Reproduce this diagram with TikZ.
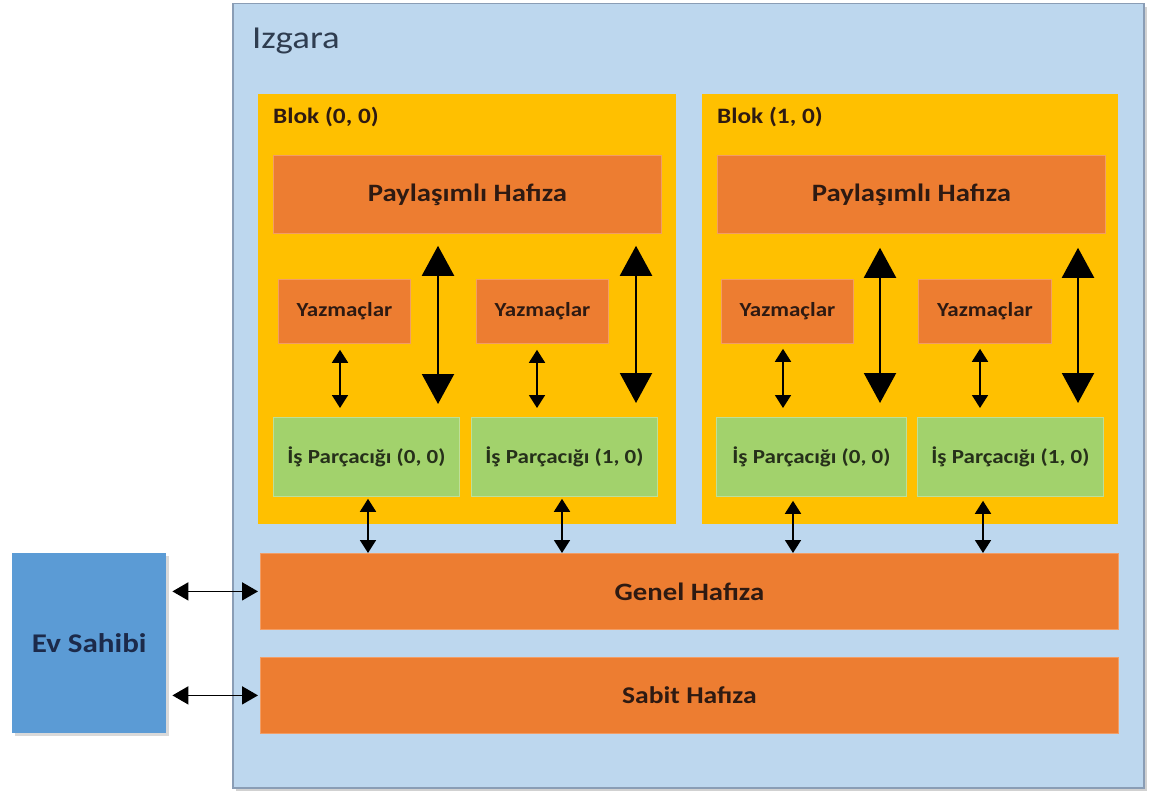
\documentclass[tikz,border=0pt]{standalone}
\usepackage{fontspec}
\setmainfont{Carlito}[FakeStretch=1.15]
\usetikzlibrary{arrows.meta}
\definecolor{gridfill}{HTML}{BDD7EE}
\definecolor{gridline}{HTML}{8A9DB5}
\definecolor{blockfill}{HTML}{FFC000}
\definecolor{orangefill}{HTML}{ED7D31}
\definecolor{greenfill}{HTML}{A2D26C}
\definecolor{hostfill}{HTML}{5B9BD5}
\definecolor{txtdark}{HTML}{2E1A12}
\definecolor{txtgreen}{HTML}{26301A}
\definecolor{txtgrid}{HTML}{2F3D50}
\definecolor{txthost}{HTML}{1C2A4A}
\tikzset{
  box/.style n args={3}{rectangle, anchor=north west, inner sep=0pt,
     minimum width=#1pt, minimum height=#2pt, fill=#3},
  membox/.style={draw=orangefill!75!white, line width=0.8pt, text=txtdark, font=\bfseries},
  thrbox/.style={draw=greenfill!70!white, line width=0.8pt, text=txtgreen, font=\bfseries\fontsize{20}{24}\selectfont},
  regbox/.style={draw=orangefill!75!white, line width=0.8pt, text=txtdark, font=\bfseries\fontsize{20}{24}\selectfont},
  bigarrow/.style={line width=2.2pt, {Triangle[width=32pt,length=30pt]}-{Triangle[width=32pt,length=30pt]}},
  smallarrow/.style={line width=1.8pt, {Triangle[width=16pt,length=13pt]}-{Triangle[width=16pt,length=13pt]}},
  hostarrow/.style={line width=1.8pt, {Triangle[width=18pt,length=16pt]}-{Triangle[width=18pt,length=16pt]}},
}
\begin{document}
\begin{tikzpicture}[x=1pt,y=-1pt]
\useasboundingbox (0,0) rectangle (1153,791);
\fill[white] (0,0) rectangle (1153,791);
% grid
\fill[black!18] (236,7) rectangle (1147,791);
\node[box={911}{784}{gridfill}, draw=gridline, line width=1.5pt] (grid) at (232,3) {};
\node[anchor=base west, text=txtgrid, font=\fontsize{32}{38}\selectfont, inner sep=0pt] (gridlbl) at (252,49) {Izgara};
% blocks
\node[box={418}{430}{blockfill}] (blk0) at (258,94) {};
\node[box={416}{430}{blockfill}] (blk1) at (702,94) {};
\node[anchor=base west, text=txtdark, font=\bfseries\fontsize{22}{26}\selectfont, inner sep=0pt] (blk0lbl) at (273,124) {Blok (0, 0)};
\node[anchor=base west, text=txtdark, font=\bfseries\fontsize{22}{26}\selectfont, inner sep=0pt] (blk1lbl) at (717,124) {Blok (1, 0)};
% shared memory
\node[box={388}{78}{orangefill}, membox, font=\bfseries\fontsize{25}{30}\selectfont] (pay0) at (273,155) {Paylaşımlı Hafıza};
\node[box={388}{78}{orangefill}, membox, font=\bfseries\fontsize{25}{30}\selectfont] (pay1) at (717,155) {Paylaşımlı Hafıza};
% registers
\node[box={132}{64}{orangefill}, regbox] (yaz00) at (278,279) {Yazmaçlar};
\node[box={132}{64}{orangefill}, regbox] (yaz01) at (476,279) {Yazmaçlar};
\node[box={132}{64}{orangefill}, regbox] (yaz10) at (721,279) {Yazmaçlar};
\node[box={133}{64}{orangefill}, regbox] (yaz11) at (918,279) {Yazmaçlar};
% threads
\node[box={186}{79}{greenfill}, thrbox] (th00) at (273,417) {İş Parçacığı (0, 0)};
\node[box={186}{79}{greenfill}, thrbox] (th01) at (471,417) {İş Parçacığı (1, 0)};
\node[box={190}{79}{greenfill}, thrbox] (th10) at (716,417) {İş Parçacığı (0, 0)};
\node[box={186}{79}{greenfill}, thrbox] (th11) at (917,417) {İş Parçacığı (1, 0)};
% global / constant memory
\node[box={858}{76}{orangefill}, membox, font=\bfseries\fontsize{25}{30}\selectfont] (genel) at (260,553) {Genel Hafıza};
\node[box={858}{76}{orangefill}, membox, font=\bfseries\fontsize{24}{28}\selectfont] (sabit) at (260,657) {Sabit Hafıza};
% host
\fill[black!15] (15,556) rectangle (169,736);
\node[box={154}{180}{hostfill}, text=txthost, font=\bfseries\fontsize{27}{32}\selectfont] (host) at (12,553) {Ev Sahibi};
% arrow columns
\coordinate (c00) at (438,0);
\coordinate (c01) at (636,0);
\coordinate (c10) at (880,0);
\coordinate (c11) at (1078,0);
\coordinate (g00) at (368,0);
\coordinate (g01) at (562,0);
\coordinate (g10) at (793,0);
\coordinate (g11) at (983,0);
\coordinate (r00) at (340,0);
\coordinate (r01) at (537,0);
\coordinate (r10) at (783,0);
\coordinate (r11) at (980,0);
% big arrows: shared memory <-> threads
\draw[bigarrow, shorten <=12pt, shorten >=13pt] (pay0.south -| c00) -- (th00.north -| c00);
\draw[bigarrow, shorten <=12pt, shorten >=14pt] (pay0.south -| c01) -- (th01.north -| c01);
\draw[bigarrow, shorten <=14pt, shorten >=14pt] (pay1.south -| c10) -- (th10.north -| c10);
\draw[bigarrow, shorten <=14pt, shorten >=14pt] (pay1.south -| c11) -- (th11.north -| c11);
% small arrows: registers <-> threads
\draw[smallarrow, shorten <=6pt, shorten >=9pt] (yaz00.south -| r00) -- (th00.north -| r00);
\draw[smallarrow, shorten <=6pt, shorten >=9pt] (yaz01.south -| r01) -- (th01.north -| r01);
\draw[smallarrow, shorten <=5pt, shorten >=9pt] (yaz10.south -| r10) -- (th10.north -| r10);
\draw[smallarrow, shorten <=5pt, shorten >=9pt] (yaz11.south -| r11) -- (th11.north -| r11);
% threads <-> global memory
\draw[smallarrow, shorten <=2pt] (th00.south -| g00) -- (genel.north -| g00);
\draw[smallarrow, shorten <=2pt] (th01.south -| g01) -- (genel.north -| g01);
\draw[smallarrow, shorten <=4pt] (th10.south -| g10) -- (genel.north -| g10);
\draw[smallarrow, shorten <=4pt] (th11.south -| g11) -- (genel.north -| g11);
% host <-> memories
\draw[hostarrow, shorten <=6pt, shorten >=2pt] (host.east |- genel.west) -- (genel.west);
\draw[hostarrow, shorten <=6pt, shorten >=2pt] (host.east |- sabit.west) -- (sabit.west);
\end{tikzpicture}
\end{document}
